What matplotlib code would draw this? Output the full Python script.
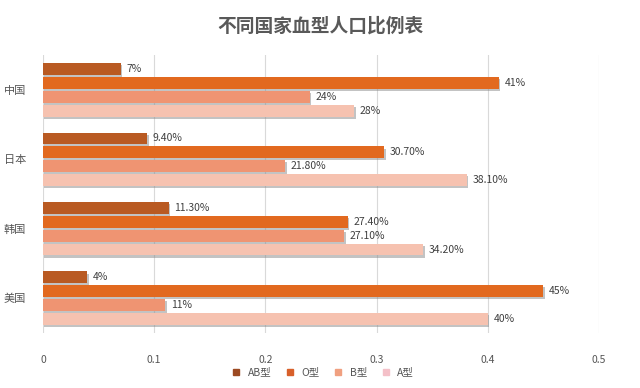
import matplotlib
matplotlib.use("Agg")
import matplotlib.pyplot as plt
import matplotlib.patheffects as pe
import numpy as np

plt.rcParams['font.family'] = ['Noto Sans CJK SC', 'DejaVu Sans']

# --- dados ---
paises = ["中国", "日本", "韩国", "美国"]
tipos = ["AB型", "O型", "B型", "A型"]
ab = [0.07, 0.094, 0.113, 0.04]
o = [0.41, 0.307, 0.274, 0.45]
b = [0.24, 0.218, 0.271, 0.11]
a = [0.28, 0.381, 0.342, 0.40]
rotulos_ab = ["7%", "9.40%", "11.30%", "4%"]
rotulos_o = ["41%", "30.70%", "27.40%", "45%"]
rotulos_b = ["24%", "21.80%", "27.10%", "11%"]
rotulos_a = ["28%", "38.10%", "34.20%", "40%"]

series = [ab, o, b, a]
rotulos = [rotulos_ab, rotulos_o, rotulos_b, rotulos_a]
cores = ["#b95a22", "#e2691f", "#ef9472", "#f6c2b0"]
cores_leg = ["#9c4a22", "#d8602a", "#f0a080", "#f4c0c8"]

fig = plt.figure(figsize=(6.4, 3.88), dpi=100)
ax = fig.add_axes([0.067, 0.142, 0.869, 0.716])

y = np.arange(len(paises))
offsets = [-0.3, -0.1, 0.1, 0.3]
sombra = [pe.SimplePatchShadow(offset=(1, -1.5), shadow_rgbFace="#888888", alpha=0.5), pe.Normal()]

for k in range(4):
    barras = ax.barh(y + offsets[k], series[k], height=0.17, color=cores[k], zorder=3)
    for bar in barras:
        bar.set_path_effects(sombra)
    for i, v in enumerate(series[k]):
        ax.text(v + 0.005, y[i] + offsets[k], rotulos[k][i], va="center", ha="left",
                fontsize=7.5, color="#404040", zorder=4)

ax.set_xlim(0, 0.5)
ax.set_ylim(3.5, -0.5)
ax.set_xticks([0, 0.1, 0.2, 0.3, 0.4, 0.5])
ax.set_xticklabels(["0", "0.1", "0.2", "0.3", "0.4", "0.5"])
ax.set_yticks(y)
ax.set_yticklabels(paises)
ax.tick_params(axis="x", length=0, pad=16, labelsize=7.5, labelcolor="#555555")
ax.tick_params(axis="y", length=0, pad=12, labelsize=8, labelcolor="#555555")
ax.grid(axis="x", color="#d9d9d9", linewidth=0.8, zorder=0)
for s in ax.spines.values():
    s.set_visible(False)

fig.text(0.5, 0.932, "不同国家血型人口比例表", ha="center", va="center",
         fontsize=13.5, fontweight="bold", color="#595959")

handles = [plt.Line2D([], [], marker="s", linestyle="none", markersize=4,
                      markerfacecolor=cores_leg[k], markeredgecolor=cores_leg[k]) for k in range(4)]
fig.legend(handles, tipos, loc="center", bbox_to_anchor=(0.5, 0.04), ncol=4, frameon=False,
           fontsize=7.5, handletextpad=0.1, columnspacing=0.8, labelcolor="#555555")

fig.savefig("out.png", dpi=100)
